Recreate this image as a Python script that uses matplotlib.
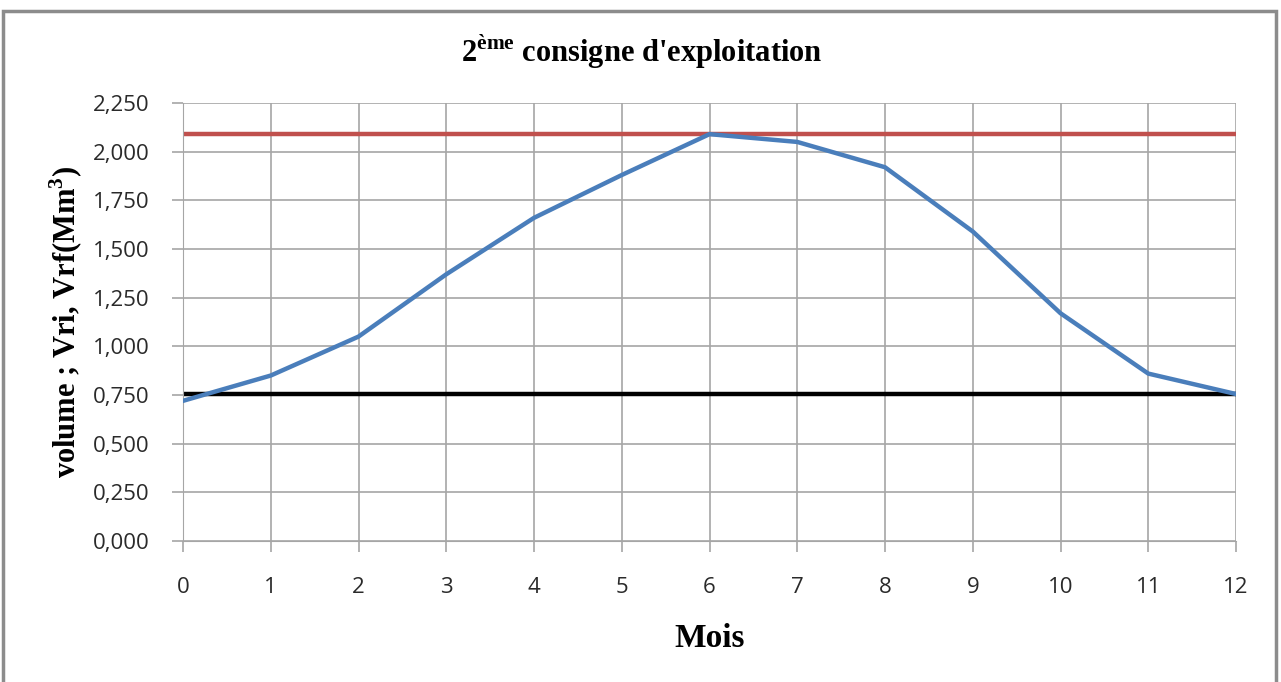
import matplotlib.pyplot as plt
from matplotlib.patches import Rectangle
from matplotlib.ticker import FuncFormatter

plt.rcParams['mathtext.fontset'] = 'custom'
plt.rcParams['mathtext.rm'] = 'Liberation Serif:bold'
plt.rcParams['mathtext.bf'] = 'Liberation Serif:bold'

# volume du réservoir par mois (Mm3)
mois = [0, 1, 2, 3, 4, 5, 6, 7, 8, 9, 10, 11, 12]
volume = [0.72, 0.85, 1.05, 1.37, 1.66, 1.88, 2.09, 2.05, 1.92, 1.59, 1.17, 0.86, 0.755]
v_max = 2.09
v_min = 0.755
y_ticks = [0, 0.25, 0.5, 0.75, 1.0, 1.25, 1.5, 1.75, 2.0, 2.25]

fig = plt.figure(figsize=(12.81, 6.82), dpi=100)
ax = fig.add_axes([183 / 1281, 1 - 541 / 682, (1236 - 183) / 1281, (541 - 103) / 682])

# cadre gris autour du graphique
fig.patches.append(Rectangle((3 / 1281, -0.02), 1273 / 1281, 1.02 - 11 / 682,
                             transform=fig.transFigure, fill=False,
                             edgecolor='#8c8c8c', linewidth=2.5))

ax.plot(mois, volume, color='#4a7ebb', linewidth=3.2, zorder=3)
ax.axhline(v_max, color='#c0504d', linewidth=3.2, zorder=2)
ax.axhline(v_min, color='black', linewidth=3.2, zorder=2)

ax.set_xlim(0, 12)
ax.set_ylim(0, 2.25)
ax.set_xticks(mois)
ax.set_yticks(y_ticks)
ax.yaxis.set_major_formatter(FuncFormatter(lambda v, p: f'{v:,.3f}'.replace('.', ',')))
ax.grid(True, color='#a6a6a6', linewidth=1.2)
ax.set_axisbelow(True)
for s in ax.spines.values():
    s.set_visible(False)
ax.spines['left'].set_visible(True)
ax.spines['bottom'].set_visible(True)
ax.spines['left'].set_color('#a6a6a6')
ax.spines['bottom'].set_color('#a6a6a6')
ax.tick_params(axis='both', colors='#a6a6a6', length=8, width=1.2,
               labelcolor='#2a2a2a', labelsize=16)
ax.tick_params(axis='x', pad=18)
ax.tick_params(axis='y', pad=16)
for lbl in ax.get_xticklabels() + ax.get_yticklabels():
    lbl.set_family('Open Sans')

fig.text(642 / 1281, 1 - 52 / 682, r"2$^{\mathrm{ème}}$ consigne d'exploitation",
         ha='center', va='center', fontsize=22, fontweight='bold', family='Liberation Serif')
ax.set_xlabel('Mois', fontsize=24, fontweight='bold', family='Liberation Serif', labelpad=18)
ax.set_ylabel(r'volume ; Vri, Vrf(Mm$^{3}$)', fontsize=22, fontweight='bold',
              family='Liberation Serif', labelpad=6)

fig.savefig('out.png', dpi=100, facecolor='white')
